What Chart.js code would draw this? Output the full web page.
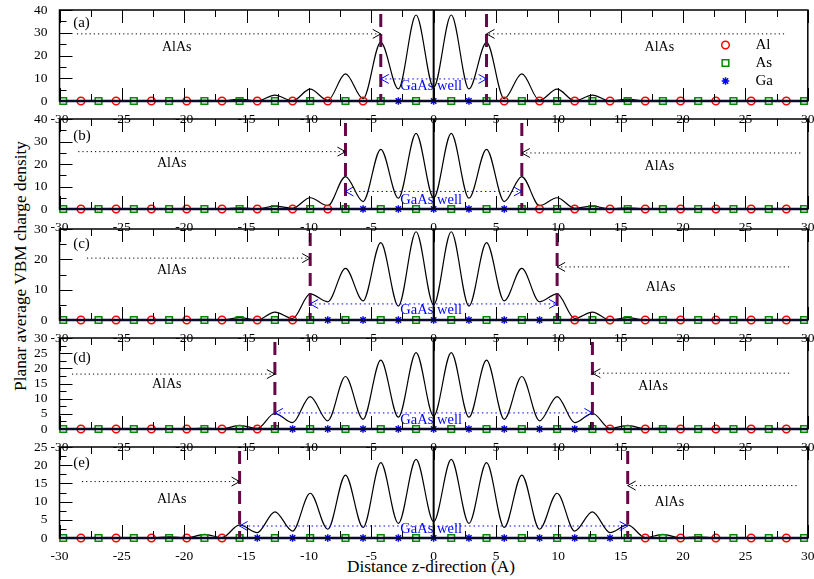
<!DOCTYPE html>
<html>
<head>
<meta charset="utf-8">
<script src="https://cdn.jsdelivr.net/npm/chart.js"></script>
<style>
html, body { margin: 0; padding: 0; background: #fff; }
#wrap { position: relative; width: 814px; height: 579px; overflow: hidden; }
#wrap canvas { position: absolute; left: 0; }
.axtitle { position: absolute; font-family: "Liberation Serif", serif; font-size: 17.3px; line-height: 22px; height: 22px; color: #000; white-space: nowrap; text-align: center; }
</style>
</head>
<body>
<div id="wrap">
  <div class="axtitle" style="left:-179px; top:255px; width:400px; transform: rotate(-90deg);">Planar average VBM charge density</div>
  <div class="axtitle" style="left:231px; top:556px; width:400px;">Distance z-direction (A)</div>
</div>
<script>
// sample positions along z (atomic planes, spacing a/4)
var zSites = [-30, -29.70, -28.28, -26.87, -25.46, -24.04, -22.63, -21.21, -19.80, -18.38, -16.97, -15.56, -14.14, -12.73, -11.31, -9.90, -8.49, -7.07, -5.66, -4.24, -2.83, -1.41,
  0, 1.41, 2.83, 4.24, 5.66, 7.07, 8.49, 9.90, 11.31, 12.73, 14.14, 15.56, 16.97, 18.38, 19.80, 21.21, 22.63, 24.04, 25.46, 26.87, 28.28, 29.70, 30];

// planar averaged VBM charge density
var chargeA = [0, 0,0,0,0,0,0,0,0, 0.3,0,0.8,0,2.6,0.1,5.2,0.3,11.9,1.0,25.8,5.3,37.8, 6.0, 37.8,5.3,25.8,1.0,11.9,0.3,5.2,0.1,2.6,0,0.8,0,0.3, 0,0,0,0,0,0,0,0, 0];
var chargeB = [0, 0,0,0,0,0,0,0,0, 0,0,0.5,0,1.3,0.3,5.0,1.5,14.4,3.3,26.5,4.8,33.6, 4.9, 33.6,4.8,26.5,3.3,14.4,1.5,5.0,0.3,1.3,0,0.5,0,0, 0,0,0,0,0,0,0,0, 0];
var chargeC = [0, 0,0,0,0,0,0,0,0, 0.2,0,0.8,0,2.6,0.5,8.6,6.0,17.0,6.3,25.5,4.6,29.1, 5.0, 29.1,4.6,25.5,6.3,17.0,6.0,8.6,0.5,2.6,0,0.8,0,0.2, 0,0,0,0,0,0,0,0, 0];
var chargeD = [0, 0,0,0,0,0,0,0,0, 0.3,0,1.2,0.2,5.2,2.1,10.7,2.7,17.3,3.2,22.7,3.9,25.2, 4.3, 25.2,3.9,22.7,3.2,17.3,2.7,10.7,2.1,5.2,0.2,1.2,0,0.3, 0,0,0,0,0,0,0,0, 0];
var chargeE = [0, 0,0,0,0,0,0,0.3,0, 1.0,0.1,3.6,1.5,7.2,1.9,12.3,2.4,17.3,2.9,20.7,4.0,21.6, 4.5, 21.6,4.0,20.7,2.9,17.3,2.4,12.3,1.9,7.2,1.5,3.6,0.1,1.0, 0,0.3,0,0,0,0,0,0, 0];

// atom positions
var asX = [-29.70, -26.87, -24.04, -21.21, -18.38, -15.56, -12.73, -9.90, -7.07, -4.24, -1.41, 1.41, 4.24, 7.07, 9.90, 12.73, 15.56, 18.38, 21.21, 24.04, 26.87, 29.70];
var alA = [-28.28, -25.46, -22.63, -19.80, -16.97, -14.14, -11.31, -8.49, -5.66, 5.66, 8.49, 11.31, 14.14, 16.97, 19.80, 22.63, 25.46, 28.28];
var gaA = [-2.83, 0, 2.83];
var alB = [-28.28, -25.46, -22.63, -19.80, -16.97, -14.14, -11.31, -8.49, 8.49, 11.31, 14.14, 16.97, 19.80, 22.63, 25.46, 28.28];
var gaB = [-5.66, -2.83, 0, 2.83, 5.66];
var alC = [-28.28, -25.46, -22.63, -19.80, -16.97, -14.14, -11.31, 11.31, 14.14, 16.97, 19.80, 22.63, 25.46, 28.28];
var gaC = [-8.49, -5.66, -2.83, 0, 2.83, 5.66, 8.49];
var alD = [-28.28, -25.46, -22.63, -19.80, -16.97, -14.14, 14.14, 16.97, 19.80, 22.63, 25.46, 28.28];
var gaD = [-11.31, -8.49, -5.66, -2.83, 0, 2.83, 5.66, 8.49, 11.31];
var alE = [-28.28, -25.46, -22.63, -19.80, -16.97, 16.97, 19.80, 22.63, 25.46, 28.28];
var gaE = [-14.14, -11.31, -8.49, -5.66, -2.83, 0, 2.83, 5.66, 8.49, 11.31, 14.14];

// interfaces (dashed lines at +/-)
var interfaceX = [4.24, 7.07, 9.90, 12.73, 15.56];
// AlAs labels [x, y] left / right
var alasLeft = [[-20.6, 23.7], [-21.0, 20.4], [-21.0, 16.5], [-21.4, 14.8], [-21.0, 10.7]];
var alasRight = [[18.1, 23.7], [18.1, 19.1], [18.2, 10.9], [17.6, 14.2], [18.9, 9.9]];
// dotted AlAs arrows [from x, y]
var arrowLeft = [[-28.6, 29.5], [-28.5, 25.5], [-27.8, 20.4], [-29.0, 18.1], [-28.2, 15.5]];
var arrowRight = [[28.1, 29.5], [29.4, 24.9], [28.5, 17.5], [28.5, 18.4], [29.1, 14.4]];
// GaAs well arrow height and label height
var wellArrowY = [9.7, 7.8, 5.3, 5.3, 3.3];
var wellTextY = [6.7, 4.0, 3.3, 3.0, 2.5];
var panelNames = ['(a)', '(b)', '(c)', '(d)', '(e)'];
var panelNameY = [34.3, 32.4, 25.0, 23.4, 20.6];
var yMaxes = [40, 40, 30, 30, 25];
var ySteps = [10, 10, 10, 5, 5];

var legendNames = ['Al', 'As', 'Ga'];
var legendY = [24.6, 16.7, 8.8];

var panels = [
  { curve: chargeA, al: alA, ga: gaA, top: 10, h: 91 },
  { curve: chargeB, al: alB, ga: gaB, top: 119, h: 90 },
  { curve: chargeC, al: alC, ga: gaC, top: 229, h: 91 },
  { curve: chargeD, al: alD, ga: gaD, top: 338, h: 91 },
  { curve: chargeE, al: alE, ga: gaE, top: 447, h: 91 }
];

var SERIF = '"Liberation Serif", "Times New Roman", serif';
var styles = {
  Al: { pointStyle: 'circle', radius: 3.8, color: '#ff0000' },
  As: { pointStyle: 'rect', radius: 4.7, color: '#008b00' },
  Ga: { pointStyle: 'star', radius: 3.8, color: '#0000ff' }
};

function chevron(ctx, tx, ty, dir) {
  ctx.beginPath();
  ctx.moveTo(tx - dir * 8, ty - 4.5);
  ctx.lineTo(tx, ty);
  ctx.lineTo(tx - dir * 8, ty + 4.5);
  ctx.stroke();
}

function makeDecor(i) {
  return {
    id: 'decor',
    afterDatasetsDraw: function (chart) {
      var ctx = chart.ctx, ca = chart.chartArea, x = chart.scales.x, y = chart.scales.y;
      ctx.save();
      // interface dashed lines
      ctx.strokeStyle = '#670748';
      ctx.lineWidth = 3;
      ctx.setLineDash([13, 7]);
      [-interfaceX[i], interfaceX[i]].forEach(function (v) {
        var px = x.getPixelForValue(v);
        ctx.beginPath(); ctx.moveTo(px, ca.top + 4); ctx.lineTo(px, ca.bottom); ctx.stroke();
      });
      // black dotted arrows pointing to the interface
      ctx.strokeStyle = '#000';
      ctx.lineWidth = 1;
      var sides = [[arrowLeft[i], -interfaceX[i], 1], [arrowRight[i], interfaceX[i], -1]];
      sides.forEach(function (s) {
        var x0 = x.getPixelForValue(s[0][0]), x1 = x.getPixelForValue(s[1]), py = y.getPixelForValue(s[0][1]);
        ctx.setLineDash([1.2, 3]);
        ctx.beginPath(); ctx.moveTo(x0, py); ctx.lineTo(x1, py); ctx.stroke();
        ctx.setLineDash([]);
        chevron(ctx, x1, py, s[2]);
      });
      // GaAs well double arrow
      ctx.strokeStyle = '#0000ff';
      var wl = x.getPixelForValue(-interfaceX[i]), wr = x.getPixelForValue(interfaceX[i]), wy = y.getPixelForValue(wellArrowY[i]);
      ctx.setLineDash([1.5, 3]);
      ctx.beginPath(); ctx.moveTo(wl, wy); ctx.lineTo(wr, wy); ctx.stroke();
      ctx.setLineDash([]);
      chevron(ctx, wl, wy, -1);
      chevron(ctx, wr, wy, 1);
      // texts
      ctx.textBaseline = 'middle';
      ctx.textAlign = 'center';
      ctx.fillStyle = '#0000ff';
      ctx.font = '14.5px ' + SERIF;
      ctx.fillText('GaAs well', x.getPixelForValue(-0.2), y.getPixelForValue(wellTextY[i]));
      ctx.fillStyle = '#000';
      ctx.font = '14px ' + SERIF;
      ctx.fillText('AlAs', x.getPixelForValue(alasLeft[i][0]), y.getPixelForValue(alasLeft[i][1]));
      ctx.fillText('AlAs', x.getPixelForValue(alasRight[i][0]), y.getPixelForValue(alasRight[i][1]));
      ctx.textAlign = 'left';
      ctx.font = '15px ' + SERIF;
      ctx.fillText(panelNames[i], x.getPixelForValue(-28.9), y.getPixelForValue(panelNameY[i]));
      // legend in first panel
      if (i === 0) {
        legendNames.forEach(function (name, k) {
          var st = styles[name];
          var py = y.getPixelForValue(legendY[k]);
          ctx.strokeStyle = st.color;
          ctx.fillStyle = 'rgba(0,0,0,0)';
          ctx.lineWidth = 1.5;
          Chart.helpers.drawPoint(ctx, { pointStyle: st.pointStyle, radius: st.radius, borderWidth: 1.5, rotation: 0 }, x.getPixelForValue(23.4), py);
          ctx.fillStyle = '#000';
          ctx.font = '15px ' + SERIF;
          ctx.fillText(name, x.getPixelForValue(25.8), py);
        });
      }
      ctx.restore();
    },
    afterDraw: function (chart) {
      var ctx = chart.ctx, ca = chart.chartArea, x = chart.scales.x, y = chart.scales.y;
      ctx.save();
      ctx.strokeStyle = '#000';
      ctx.lineWidth = 1;
      function seg(x0, y0, x1, y1) { ctx.beginPath(); ctx.moveTo(x0, y0); ctx.lineTo(x1, y1); ctx.stroke(); }
      var xt = x.ticks.map(function (t) { return t.value; });
      xt.forEach(function (v, k) {
        var px = Math.round(x.getPixelForValue(v)) + 0.5;
        seg(px, ca.top, px, ca.top + 13);
        seg(px, ca.bottom, px, ca.bottom - 13);
        if (k < xt.length - 1) {
          var pm = Math.round(x.getPixelForValue((v + xt[k + 1]) / 2)) + 0.5;
          seg(pm, ca.top, pm, ca.top + 7);
          seg(pm, ca.bottom, pm, ca.bottom - 7);
        }
      });
      var yt = y.ticks.map(function (t) { return t.value; });
      yt.forEach(function (v, k) {
        var py = Math.round(y.getPixelForValue(v)) + 0.5;
        seg(ca.left, py, ca.left + 13, py);
        if (k < yt.length - 1) {
          var pm = Math.round(y.getPixelForValue((v + yt[k + 1]) / 2)) + 0.5;
          seg(ca.left, pm, ca.left + 7, pm);
        }
      });
      // frame
      ctx.lineWidth = 1.5;
      ctx.strokeRect(ca.left, ca.top, ca.right - ca.left, ca.bottom - ca.top);
      ctx.strokeStyle = '#0a0a2a';
      ctx.lineWidth = 2.5;
      seg(ca.left, ca.bottom, ca.right, ca.bottom);
      // z = 0 line
      ctx.strokeStyle = '#000';
      ctx.lineWidth = 2;
      var p0 = x.getPixelForValue(0);
      seg(p0, ca.top, p0, ca.bottom);
      ctx.restore();
    }
  };
}

function markerSet(name, xs) {
  var st = styles[name];
  return {
    label: name,
    data: xs.map(function (v) { return { x: v, y: 0 }; }),
    showLine: false,
    pointStyle: st.pointStyle,
    pointRadius: st.radius,
    pointBorderWidth: 1.5,
    pointBorderColor: st.color,
    pointBackgroundColor: 'rgba(0,0,0,0)',
    borderColor: st.color,
    clip: false,
    order: 1
  };
}

var wrap = document.getElementById('wrap');
panels.forEach(function (p, i) {
  var axisH = 22;
  var c = document.createElement('canvas');
  c.width = 814;
  c.height = 12 + p.h + axisH;
  c.style.top = (p.top - 12) + 'px';
  wrap.appendChild(c);

  new Chart(c, {
    type: 'line',
    data: {
      datasets: [
        {
          label: 'charge density',
          data: zSites.map(function (v, k) { return { x: v, y: p.curve[k] }; }),
          borderColor: '#000',
          borderWidth: 1.2,
          pointRadius: 0,
          fill: false,
          cubicInterpolationMode: 'monotone',
          order: 5
        },
        markerSet('Al', p.al),
        markerSet('As', asX),
        markerSet('Ga', p.ga)
      ]
    },
    options: {
      responsive: false,
      animation: false,
      events: [],
      layout: { padding: { top: 12, left: 0, right: 4.5, bottom: 0 } },
      plugins: { legend: { display: false }, tooltip: { enabled: false } },
      scales: {
        x: {
          type: 'linear', min: -30, max: 30,
          grid: { display: false }, border: { display: false },
          ticks: { stepSize: 5, padding: 2, color: '#000', autoSkip: false, maxRotation: 0, font: { family: SERIF, size: 13.5 } },
          afterFit: function (s) { s.height = axisH; s.paddingLeft = 0; s.paddingRight = 0; }
        },
        y: {
          type: 'linear', min: 0, max: yMaxes[i],
          grid: { display: false }, border: { display: false },
          ticks: { stepSize: ySteps[i], padding: 4, color: '#000', autoSkip: false, font: { family: SERIF, size: 13.5, lineHeight: 0.8 } },
          afterFit: function (s) { s.width = 59.5; s.paddingTop = 0; s.paddingBottom = 0; }
        }
      }
    },
    plugins: [makeDecor(i)]
  });
});
</script>
</body>
</html>
